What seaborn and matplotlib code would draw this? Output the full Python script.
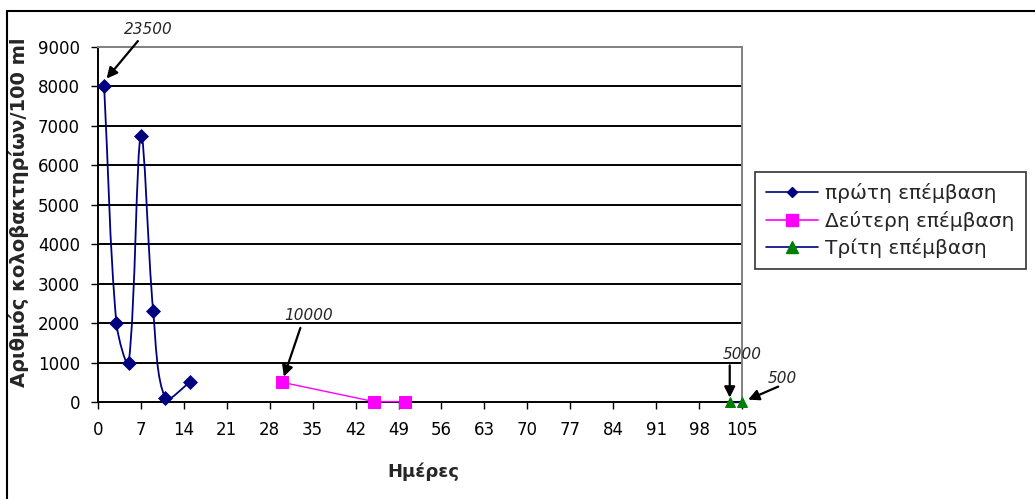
import numpy as np
import pandas as pd
import matplotlib
matplotlib.use("Agg")
import matplotlib.pyplot as plt
from matplotlib.path import Path
from matplotlib.patches import PathPatch
from matplotlib.lines import Line2D
import seaborn as sns

# ---- data ----
days_1 = [1, 3, 5, 7, 9, 11, 15]
vals_1 = [8000, 2000, 1000, 6750, 2300, 100, 500]
days_2 = [30, 45, 50]
vals_2 = [500, 10, 10]
days_3 = [103, 105]
vals_3 = [10, 10]

series_names = ["πρώτη επέμβαση", "Δεύτερη επέμβαση", "Τρίτη επέμβαση"]
x_ticks = list(range(0, 106, 7))
y_ticks = list(range(0, 9001, 1000))

ann_labels = ["23500", "10000", "5000", "500"]
ann_targets = [(1, 8000), (30, 500), (103, 10), (105, 10)]

xlabel = "Ημέρες"
ylabel = "Αριθμός κολοβακτηρίων/100 ml"

# ---- style ----
sns.set_style("white")
plt.rcParams["font.family"] = ["DejaVu Sans"]

W, H = 1035, 499
fig = plt.figure(figsize=(W / 100, H / 100), dpi=100)
ax_rect = [98 / W, 1 - 402 / H, 644 / W, 355 / H]
ax = fig.add_axes(ax_rect)
XMAX, YMAX = 105, 9000
sx = ax_rect[2] * W / XMAX   # px per day
sy = ax_rect[3] * H / YMAX   # px per unit

navy = "#000080"
magenta = "#FF00FF"
green = "#008000"

df1 = pd.DataFrame({"day": days_1, "val": vals_1})
df2 = pd.DataFrame({"day": days_2, "val": vals_2})
df3 = pd.DataFrame({"day": days_3, "val": vals_3})

# gridlines
for y in y_ticks[1:-1]:
    ax.axhline(y, color="black", lw=1.4, zorder=0)

# smoothed curve for first series (Excel-like, distance weighted Bezier)
pts = np.column_stack([np.array(days_1) * sx, np.array(vals_1) * sy]).astype(float)
n = len(pts)
c_after = []
c_before = []
for i in range(n):
    p_prev = pts[max(i - 1, 0)]
    p_next = pts[min(i + 1, n - 1)]
    T = p_next - p_prev
    d_prev = np.linalg.norm(pts[i] - p_prev)
    d_next = np.linalg.norm(p_next - pts[i])
    tot = d_prev + d_next
    c_before.append(pts[i] - T * (d_prev / tot) / 3.0)
    c_after.append(pts[i] + T * (d_next / tot) / 3.0)
to_data = np.array([1 / sx, 1 / sy])
verts = [tuple(pts[0] * to_data)]
codes = [Path.MOVETO]
for i in range(n - 1):
    verts += [tuple(c_after[i] * to_data), tuple(c_before[i + 1] * to_data),
              tuple(pts[i + 1] * to_data)]
    codes += [Path.CURVE4] * 3
patch = PathPatch(Path(verts, codes), facecolor="none", edgecolor=navy, lw=1.3,
                  zorder=3)
ax.add_patch(patch)
sns.scatterplot(data=df1, x="day", y="val", ax=ax, marker="D", s=50, color=navy,
                edgecolor=navy, zorder=4, legend=False, clip_on=False)

sns.lineplot(data=df2, x="day", y="val", ax=ax, color=magenta, lw=1.0,
             marker="s", markersize=8, markeredgecolor=magenta, zorder=4,
             legend=False, clip_on=False)
sns.lineplot(data=df3, x="day", y="val", ax=ax, color=navy, lw=1.0,
             marker="^", markersize=7, markerfacecolor=green,
             markeredgecolor=green, zorder=4, legend=False, clip_on=False)

ax.set_xlim(0, XMAX)
ax.set_ylim(0, YMAX)
ax.set_xticks(x_ticks)
ax.set_yticks(y_ticks)
ax.tick_params(axis="both", labelsize=12, direction="out", length=5,
               width=1, colors="black")
ax.tick_params(axis="x", pad=9)
ax.tick_params(axis="y", pad=8)
ax.tick_params(axis="both", which="both", left=True, bottom=True)

for s in ["top", "right"]:
    ax.spines[s].set_color("#808080")
    ax.spines[s].set_linewidth(1.4)
for s in ["left", "bottom"]:
    ax.spines[s].set_color("black")
    ax.spines[s].set_linewidth(1.4)

ax.set_xlabel(xlabel, fontsize=13, fontweight="bold")
ax.xaxis.set_label_coords((423 - 98) / 644, (402 - 472) / 355)
ax.xaxis.label.set_va("center")
ax.set_ylabel(ylabel, fontsize=14, fontweight="bold")
ax.yaxis.set_label_coords((19 - 98) / 644, (402 - 212) / 355)
ax.yaxis.label.set_va("center")

# annotations
text_pos = [(8.2, 9450), (34.3, 2200), (105, 1200), (111.6, 590)]
tail_pos = [(6.5, 9150), (33.0, 1880), (103.0, 930), (110.9, 390)]
tip_off = [(1.4, 8200), (30.3, 640), (103.0, 110), (106.0, 60)]
for lab, (tx, ty), tail, tip in zip(ann_labels, text_pos, tail_pos, tip_off):
    ax.text(tx, ty, lab, fontsize=11, style="italic", ha="center", va="center",
            clip_on=False)
    ax.annotate("", xy=tip, xytext=tail,
                arrowprops=dict(arrowstyle="-|>", color="black", lw=1.6,
                                mutation_scale=16, shrinkA=0, shrinkB=0),
                annotation_clip=False)

# legend
handles = [
    Line2D([], [], color=navy, lw=1.2, marker="D", markersize=5,
           markerfacecolor=navy, markeredgecolor=navy),
    Line2D([], [], color=magenta, lw=1.2, marker="s", markersize=8,
           markerfacecolor=magenta, markeredgecolor=magenta),
    Line2D([], [], color=navy, lw=1.2, marker="^", markersize=8,
           markerfacecolor=green, markeredgecolor=green),
]
leg = fig.legend(handles, series_names, loc="upper left",
                 bbox_to_anchor=(755 / W, 1 - 172 / H), bbox_transform=fig.transFigure,
                 fontsize=14.5, frameon=True, fancybox=False, edgecolor="black",
                 borderpad=0.55, labelspacing=0.38, handlelength=2.6,
                 handletextpad=0.35, borderaxespad=0)
leg.get_frame().set_linewidth(1.2)

# outer chart border (left and top visible)
fig.add_artist(Line2D([7 / W, 7 / W], [0, 1 - 11 / H], color="black",
                      lw=1.5, transform=fig.transFigure))
fig.add_artist(Line2D([7 / W, 1], [1 - 11 / H, 1 - 11 / H], color="black",
                      lw=1.5, transform=fig.transFigure))

fig.savefig("out.png", dpi=100, facecolor="white")
